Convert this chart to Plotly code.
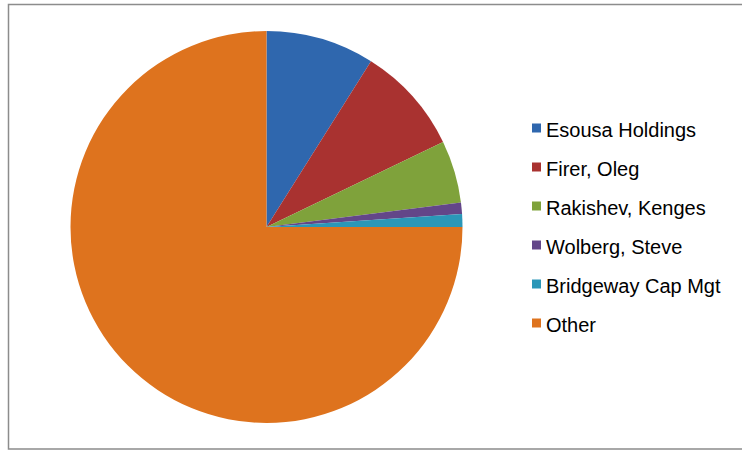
import plotly.graph_objects as go

labels = ["Esousa Holdings", "Firer, Oleg", "Rakishev, Kenges", "Wolberg, Steve", "Bridgeway Cap Mgt", "Other"]
values = [8.95, 8.9, 5.15, 0.95, 1.05, 75.0]
colors = ["#2F67AE", "#A93230", "#7FA23B", "#634689", "#2B97B8", "#DE731E"]

W, H = 742, 450
cx, cy, r = 266.5, 227, 196

fig = go.Figure(go.Pie(
    labels=labels, values=values, sort=False, direction="clockwise", rotation=0,
    marker=dict(colors=colors, line=dict(width=0)),
    textinfo="none", hoverinfo="label+percent", showlegend=False,
    domain=dict(x=[(cx - r) / W, (cx + r) / W], y=[(H - cy - r) / H, (H - cy + r) / H]),
))

shapes = [dict(type="rect", xref="paper", yref="paper", x0=8.5 / W, x1=1.2, y0=1 - 449 / H, y1=1 - 4.5 / H,
               line=dict(color="#8C8C8C", width=1.5), fillcolor="rgba(0,0,0,0)", layer="below")]
annotations = []
y0, dy = 128, 39
for i, (lab, col) in enumerate(zip(labels, colors)):
    yc = y0 + i * dy
    shapes.append(dict(type="rect", xref="paper", yref="paper",
                       x0=532 / W, x1=541 / W, y0=1 - (yc + 4.5) / H, y1=1 - (yc - 4.5) / H,
                       fillcolor=col, line=dict(width=0)))
    annotations.append(dict(text=lab, xref="paper", yref="paper", x=544 / W, y=1 - (yc + 2) / H,
                            xanchor="left", yanchor="middle", showarrow=False,
                            font=dict(family="Liberation Sans, Arial", size=20, color="#000000")))

fig.update_layout(width=W, height=H, margin=dict(l=0, r=0, t=0, b=0),
                  paper_bgcolor="white", plot_bgcolor="white",
                  shapes=shapes, annotations=annotations)
fig.write_html("out.html")
